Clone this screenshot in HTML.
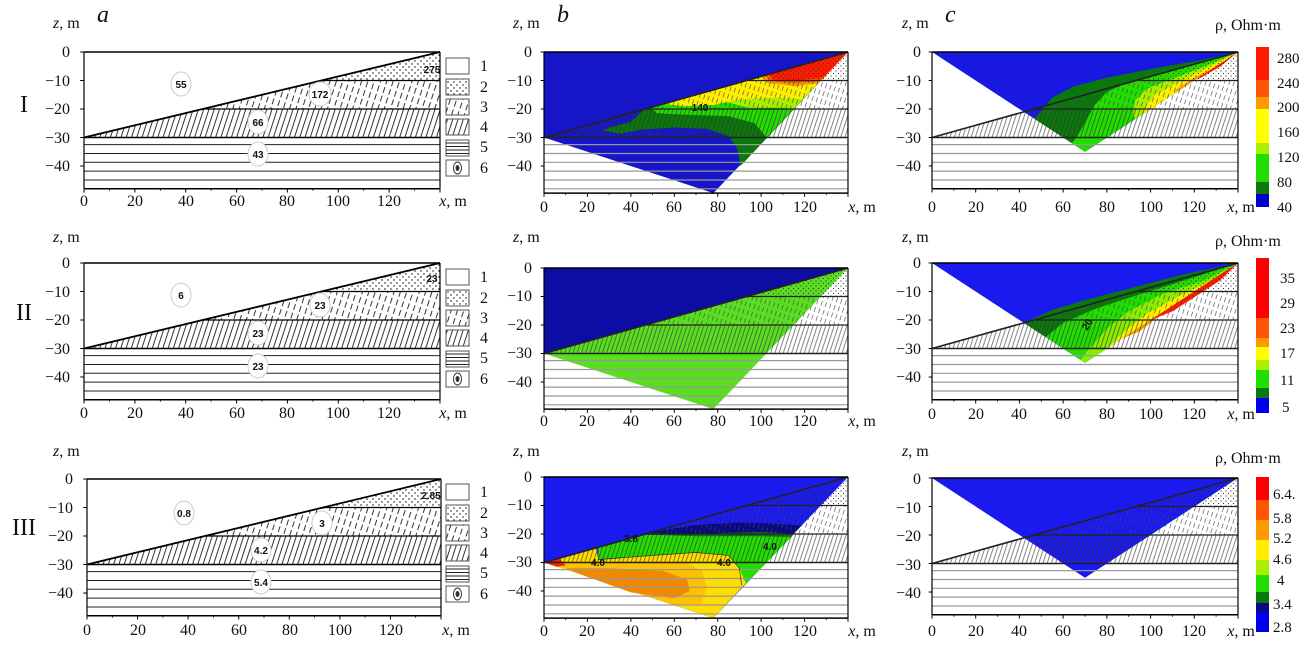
<!DOCTYPE html>
<html><head><meta charset="utf-8">
<style>
html,body{margin:0;padding:0;background:#fff;}
svg{display:block;}
text{font-family:"Liberation Serif",serif;font-size:16px;fill:#111;}
.tm{text-anchor:middle;}
.te{text-anchor:end;}
.it{font-style:italic;}
.big{font-size:24px;}
.lb{font-family:"Liberation Sans",sans-serif;font-size:10px;font-weight:bold;text-anchor:middle;}
.cb{font-size:15px;}
</style></head><body>
<svg id="s" width="1313" height="663" viewBox="0 0 1313 663" xmlns="http://www.w3.org/2000/svg">
<defs>
<pattern id="dotsk" width="6" height="6" patternUnits="userSpaceOnUse"><circle cx="1" cy="1" r="0.7" fill="#000"/><circle cx="4" cy="4" r="0.7" fill="#000"/></pattern>
<pattern id="dashk" width="6" height="9" patternUnits="userSpaceOnUse" patternTransform="rotate(18)"><line x1="3" y1="0" x2="3" y2="6" stroke="#000" stroke-width="0.8"/></pattern>
<pattern id="diagk" width="5" height="10" patternUnits="userSpaceOnUse" patternTransform="rotate(18)"><line x1="2.5" y1="0" x2="2.5" y2="10" stroke="#000" stroke-width="0.8"/></pattern>
<pattern id="dotsg" width="5" height="5" patternUnits="userSpaceOnUse"><circle cx="1" cy="1" r="0.6" fill="#333"/><circle cx="3.5" cy="3.5" r="0.6" fill="#333"/></pattern>
<pattern id="dashg" width="4.5" height="8" patternUnits="userSpaceOnUse" patternTransform="rotate(18)"><line x1="2.2" y1="0" x2="2.2" y2="5" stroke="#444" stroke-width="0.6"/></pattern>
<pattern id="diagg" width="4" height="10" patternUnits="userSpaceOnUse" patternTransform="rotate(18)"><line x1="2" y1="0" x2="2" y2="10" stroke="#333" stroke-width="0.6"/></pattern>
</defs>
<g id="shapes"></g>

<text x="97" y="22" class="it big">a</text>
<text x="557" y="22" class="it big">b</text>
<text x="945" y="22" class="it big">c</text>
<text x="20" y="112" class="big">I</text>
<text x="16" y="320" class="big">II</text>
<text x="12" y="535" class="big">III</text>

<text x="53" y="28"><tspan class="it">z</tspan>, m</text>
<text x="513" y="28"><tspan class="it">z</tspan>, m</text>
<text x="902" y="28"><tspan class="it">z</tspan>, m</text>
<text x="53" y="242"><tspan class="it">z</tspan>, m</text>
<text x="513" y="242"><tspan class="it">z</tspan>, m</text>
<text x="902" y="242"><tspan class="it">z</tspan>, m</text>
<text x="53" y="456"><tspan class="it">z</tspan>, m</text>
<text x="513" y="456"><tspan class="it">z</tspan>, m</text>
<text x="902" y="456"><tspan class="it">z</tspan>, m</text>

<text x="1215" y="30">ρ, Ohm·m</text>
<text x="1215" y="246">ρ, Ohm·m</text>
<text x="1215" y="463">ρ, Ohm·m</text>

<g>
<text x="70" y="57" class="te">0</text><text x="70" y="86" class="te">−10</text><text x="70" y="114" class="te">−20</text><text x="70" y="143" class="te">−30</text><text x="70" y="171" class="te">−40</text>
<text x="84" y="206" class="tm">0</text><text x="135" y="206" class="tm">20</text><text x="186" y="206" class="tm">40</text><text x="237" y="206" class="tm">60</text><text x="287" y="206" class="tm">80</text><text x="338" y="206" class="tm">100</text><text x="389" y="206" class="tm">120</text><text x="453" y="206" class="tm"><tspan class="it">x</tspan>, m</text>
</g>
<g>
<text x="70" y="268" class="te">0</text><text x="70" y="297" class="te">−10</text><text x="70" y="325" class="te">−20</text><text x="70" y="354" class="te">−30</text><text x="70" y="382" class="te">−40</text>
<text x="84" y="418" class="tm">0</text><text x="135" y="418" class="tm">20</text><text x="186" y="418" class="tm">40</text><text x="237" y="418" class="tm">60</text><text x="287" y="418" class="tm">80</text><text x="338" y="418" class="tm">100</text><text x="389" y="418" class="tm">120</text><text x="453" y="418" class="tm"><tspan class="it">x</tspan>, m</text>
</g>
<g>
<text x="73" y="484" class="te">0</text><text x="73" y="513" class="te">−10</text><text x="73" y="541" class="te">−20</text><text x="73" y="570" class="te">−30</text><text x="73" y="598" class="te">−40</text>
<text x="87" y="635" class="tm">0</text><text x="138" y="635" class="tm">20</text><text x="188" y="635" class="tm">40</text><text x="239" y="635" class="tm">60</text><text x="290" y="635" class="tm">80</text><text x="340" y="635" class="tm">100</text><text x="391" y="635" class="tm">120</text><text x="456" y="635" class="tm"><tspan class="it">x</tspan>, m</text>
</g>
<g>
<text x="532" y="57" class="te">0</text><text x="532" y="86" class="te">−10</text><text x="532" y="114" class="te">−20</text><text x="532" y="143" class="te">−30</text><text x="532" y="171" class="te">−40</text>
<text x="544" y="212" class="tm">0</text><text x="587" y="212" class="tm">20</text><text x="631" y="212" class="tm">40</text><text x="674" y="212" class="tm">60</text><text x="718" y="212" class="tm">80</text><text x="761" y="212" class="tm">100</text><text x="805" y="212" class="tm">120</text><text x="862" y="212" class="tm"><tspan class="it">x</tspan>, m</text>
</g>
<g>
<text x="532" y="273" class="te">0</text><text x="532" y="301" class="te">−10</text><text x="532" y="330" class="te">−20</text><text x="532" y="358" class="te">−30</text><text x="532" y="387" class="te">−40</text>
<text x="544" y="426" class="tm">0</text><text x="587" y="426" class="tm">20</text><text x="631" y="426" class="tm">40</text><text x="674" y="426" class="tm">60</text><text x="718" y="426" class="tm">80</text><text x="761" y="426" class="tm">100</text><text x="805" y="426" class="tm">120</text><text x="862" y="426" class="tm"><tspan class="it">x</tspan>, m</text>
</g>
<g>
<text x="532" y="482" class="te">0</text><text x="532" y="510" class="te">−10</text><text x="532" y="539" class="te">−20</text><text x="532" y="567" class="te">−30</text><text x="532" y="596" class="te">−40</text>
<text x="544" y="636" class="tm">0</text><text x="587" y="636" class="tm">20</text><text x="631" y="636" class="tm">40</text><text x="674" y="636" class="tm">60</text><text x="718" y="636" class="tm">80</text><text x="761" y="636" class="tm">100</text><text x="805" y="636" class="tm">120</text><text x="862" y="636" class="tm"><tspan class="it">x</tspan>, m</text>
</g>
<g>
<text x="921" y="57" class="te">0</text><text x="921" y="86" class="te">−10</text><text x="921" y="114" class="te">−20</text><text x="921" y="143" class="te">−30</text><text x="921" y="171" class="te">−40</text>
<text x="932" y="212" class="tm">0</text><text x="976" y="212" class="tm">20</text><text x="1019" y="212" class="tm">40</text><text x="1063" y="212" class="tm">60</text><text x="1107" y="212" class="tm">80</text><text x="1151" y="212" class="tm">100</text><text x="1194" y="212" class="tm">120</text><text x="1241" y="212" class="tm"><tspan class="it">x</tspan>, m</text>
</g>
<g>
<text x="921" y="268" class="te">0</text><text x="921" y="297" class="te">−10</text><text x="921" y="325" class="te">−20</text><text x="921" y="354" class="te">−30</text><text x="921" y="382" class="te">−40</text>
<text x="932" y="419" class="tm">0</text><text x="976" y="419" class="tm">20</text><text x="1019" y="419" class="tm">40</text><text x="1063" y="419" class="tm">60</text><text x="1107" y="419" class="tm">80</text><text x="1151" y="419" class="tm">100</text><text x="1194" y="419" class="tm">120</text><text x="1241" y="419" class="tm"><tspan class="it">x</tspan>, m</text>
</g>
<g>
<text x="921" y="484" class="te">0</text><text x="921" y="513" class="te">−10</text><text x="921" y="541" class="te">−20</text><text x="921" y="570" class="te">−30</text><text x="921" y="598" class="te">−40</text>
<text x="932" y="636" class="tm">0</text><text x="976" y="636" class="tm">20</text><text x="1019" y="636" class="tm">40</text><text x="1063" y="636" class="tm">60</text><text x="1107" y="636" class="tm">80</text><text x="1151" y="636" class="tm">100</text><text x="1194" y="636" class="tm">120</text><text x="1241" y="636" class="tm"><tspan class="it">x</tspan>, m</text>
</g>

<g>
<text x="480" y="71">1</text><text x="480" y="92">2</text><text x="480" y="112">3</text><text x="480" y="132">4</text><text x="480" y="152">5</text><text x="480" y="173">6</text>
<text x="480" y="282">1</text><text x="480" y="303">2</text><text x="480" y="323">3</text><text x="480" y="343">4</text><text x="480" y="363">5</text><text x="480" y="384">6</text>
<text x="480" y="497">1</text><text x="480" y="518">2</text><text x="480" y="538">3</text><text x="480" y="558">4</text><text x="480" y="578">5</text><text x="480" y="599">6</text>
</g>

<g>
<text x="1277" y="63" class="cb">280</text><text x="1277" y="88" class="cb">240</text><text x="1277" y="112" class="cb">200</text><text x="1277" y="137" class="cb">160</text><text x="1277" y="162" class="cb">120</text><text x="1277" y="187" class="cb">80</text><text x="1277" y="212" class="cb">40</text>
<text x="1280" y="283" class="cb">35</text><text x="1280" y="308" class="cb">29</text><text x="1280" y="333" class="cb">23</text><text x="1280" y="358" class="cb">17</text><text x="1280" y="385" class="cb">11</text><text x="1282" y="412" class="cb">5</text>
<text x="1273" y="499" class="cb">6.4.</text><text x="1273" y="523" class="cb">5.8</text><text x="1273" y="543" class="cb">5.2</text><text x="1273" y="564" class="cb">4.6</text><text x="1277" y="585" class="cb">4</text><text x="1273" y="609" class="cb">3.4</text><text x="1273" y="632" class="cb">2.8</text>
</g>

<g>
<ellipse cx="181" cy="84" rx="10" ry="12" fill="#fff" stroke="#ccc"/><text x="181" y="88" class="lb">55</text>
<ellipse cx="320" cy="94" rx="11" ry="12" fill="#fff" stroke="#ccc"/><text x="320" y="98" class="lb">172</text>
<text x="432" y="73" class="lb">275</text>
<ellipse cx="258" cy="122" rx="10" ry="12" fill="#fff" stroke="#ccc"/><text x="258" y="126" class="lb">66</text>
<ellipse cx="258" cy="154" rx="10" ry="12" fill="#fff" stroke="#ccc"/><text x="258" y="158" class="lb">43</text>

<ellipse cx="181" cy="295" rx="10" ry="12" fill="#fff" stroke="#ccc"/><text x="181" y="299" class="lb">6</text>
<ellipse cx="320" cy="305" rx="10" ry="12" fill="#fff" stroke="#ccc"/><text x="320" y="309" class="lb">23</text>
<text x="432" y="282" class="lb">23</text>
<ellipse cx="258" cy="333" rx="10" ry="12" fill="#fff" stroke="#ccc"/><text x="258" y="337" class="lb">23</text>
<ellipse cx="258" cy="366" rx="10" ry="12" fill="#fff" stroke="#ccc"/><text x="258" y="370" class="lb">23</text>

<ellipse cx="184" cy="513" rx="10" ry="12" fill="#fff" stroke="#ccc"/><text x="184" y="517" class="lb">0.8</text>
<ellipse cx="322" cy="523" rx="10" ry="12" fill="#fff" stroke="#ccc"/><text x="322" y="527" class="lb">3</text>
<text x="431" y="499" class="lb">2.85</text>
<ellipse cx="261" cy="550" rx="10" ry="12" fill="#fff" stroke="#ccc"/><text x="261" y="554" class="lb">4.2</text>
<ellipse cx="261" cy="582" rx="10" ry="12" fill="#fff" stroke="#ccc"/><text x="261" y="586" class="lb">5.4</text>

<text x="700" y="111" class="lb">140</text>
<text x="1090" y="326" class="lb" transform="rotate(-60 1090 326)">20</text>
<text x="631" y="542" class="lb">3.8</text>
<text x="770" y="550" class="lb">4.0</text>
<text x="598" y="566" class="lb">4.0</text>
<text x="724" y="566" class="lb">4.0</text>
</g>
</svg>
<script>
const S=2.85;
let out='';
function M(p,x,z){return [(p.X+x*p.W/140).toFixed(1),(p.Y-z*S).toFixed(1)];}
function poly(p,pts,fill,extra){out+='<polygon points="'+pts.map(q=>M(p,q[0],q[1]).join(',')).join(' ')+'" fill="'+fill+'" '+(extra||'')+'/>';}
function ln(p,x1,z1,x2,z2,c,w){const a=M(p,x1,z1),b=M(p,x2,z2);out+='<line x1="'+a[0]+'" y1="'+a[1]+'" x2="'+b[0]+'" y2="'+b[1]+'" stroke="'+c+'" stroke-width="'+w+'"/>';}
function geo(p,k){
  const s=k?'k':'g';
  poly(p,[[93.3,-10],[140,0],[140,-10]],'url(#dots'+s+')');
  poly(p,[[46.7,-20],[93.3,-10],[140,-10],[140,-20]],'url(#dash'+s+')');
  poly(p,[[0,-30],[46.7,-20],[140,-20],[140,-30]],'url(#diag'+s+')');
  const hc=k?'#222':'#999';
  for(let z=-32.5;z>p.B+0.5;z-=3.1) ln(p,0,z,140,z,hc,k?1:1.2);
  const lc=k?'#000':'#222';
  ln(p,0,-30,140,0,lc,k?1.8:1.6);
  ln(p,93.3,-10,140,-10,lc,1.2);ln(p,46.7,-20,140,-20,lc,1.2);ln(p,0,-30,140,-30,lc,1.4);
  ln(p,0,0,140,0,'#000',1.5);ln(p,0,0,0,p.B,'#000',1.2);ln(p,0,p.B,140,p.B,'#000',1.5);ln(p,140,0,140,p.B,'#000',1.2);
  for(let x=0;x<=140;x+=20){ln(p,x,p.B,x,p.B-1.3,'#000',1);}
  for(let x=10;x<=130;x+=20){ln(p,x,p.B,x,p.B-0.7,'#000',0.8);}
  for(let z=0;z>=-40;z-=10){ln(p,0,z,-1.5,z,'#000',1);}
}
const A=[{X:84,W:356,Y:52,B:-48},{X:84,W:356,Y:263,B:-48},{X:87,W:354,Y:479,B:-48}];
const B=[{X:544,W:304,Y:52,B:-49.5},{X:544,W:304,Y:268,B:-49.5},{X:544,W:304,Y:477,B:-49.5}];
const C=[{X:932,W:306,Y:52,B:-48},{X:932,W:306,Y:263,B:-48},{X:932,W:306,Y:478,B:-48}];
A.forEach(p=>geo(p,true));
[0,211,426].forEach(dy=>{
  const ys=[58,79,99,119,140,160], f=['#fff','url(#dotsk)','url(#dashk)','url(#diagk)','#fff','#fff'];
  ys.forEach((y,i)=>{out+='<rect x="446" y="'+(y+dy)+'" width="23" height="16" fill="'+f[i]+'" stroke="#555" stroke-width="1"/>';
    if(i==4){for(let j=3;j<16;j+=3.5) out+='<line x1="446" x2="469" y1="'+(y+dy+j)+'" y2="'+(y+dy+j)+'" stroke="#222"/>';}
    if(i==5){out+='<ellipse cx="457.5" cy="'+(y+dy+8)+'" rx="4" ry="6" fill="#fff" stroke="#333"/><ellipse cx="457.5" cy="'+(y+dy+8)+'" rx="2" ry="3" fill="#333"/>';}
  });
});
const R='#ff1a00',OR='#ff5500',O='#ff9900',Y='#ffee00',YG='#aaee00',G='#22dd00',DG='#0a780a',NV='#0a0a80';
(function(p){
  poly(p,[[0,0],[140,0],[78,-49.5],[0,-30]],'#1616c8');
  poly(p,[[46,-20.3],[40,-24.5],[30,-26.5],[27,-27.5],[35,-28.7],[45,-27.2],[60,-26.5],[75,-27],[85,-29.5],[89,-34],[90.5,-40],[140,0]],DG);
  poly(p,[[49,-19.5],[52,-21.5],[65,-22],[85,-22.5],[97,-25],[102.5,-30],[140,0]],G);
  poly(p,[[70,-15],[80,-17],[95,-19.5],[110,-19.5],[115,-20],[140,0]],YG);
  poly(p,[[55,-18.2],[65,-19],[78,-18.6],[90,-16.5],[105,-16],[119,-16.5],[140,0]],Y);
  poly(p,[[100,-8.6],[103,-11],[116,-12],[126.5,-11],[140,0]],O);
  poly(p,[[102,-8.1],[104,-10.3],[116,-11],[127.3,-10.2],[140,0]],OR);
  poly(p,[[104,-7.7],[105,-9.5],[115,-10],[128.5,-9],[140,0]],R);
})(B[0]);
(function(p){
  poly(p,[[0,0],[140,0],[70,-35]],'#1818e0');
  poly(p,[[140,0],[122,-3],[100,-6],[80,-9],[65,-12],[55,-16],[47,-23.5],[70,-35]],DG);
  poly(p,[[140,0],[124,-3.5],[105,-7.5],[90,-10.5],[80,-14],[74,-19],[70,-25],[66,-30],[64,-32],[70,-35]],G);
  poly(p,[[140,0],[125,-5],[108,-10],[98,-13],[93,-17],[92,-22],[93,-23.5]],YG);
  poly(p,[[140,0],[126,-5.5],[112,-11],[102,-15],[98,-19],[97,-21.5]],Y);
  poly(p,[[140,0],[130,-5],[120,-9],[112,-13],[111,-14.5]],O);
  poly(p,[[140,0],[132,-5],[123,-9],[121,-9.5]],R);
})(C[0]);
(function(p){
  poly(p,[[0,0],[140,0],[0,-30]],'#0d0da6');
  poly(p,[[0,-30],[140,0],[78,-49.5]],'#5ade22');
})(B[1]);
(function(p){
  poly(p,[[0,0],[140,0],[70,-35]],'#1a1aee');
  poly(p,[[140,0],[115,-4],[90,-9],[70,-13],[55,-16.5],[42,-21],[70,-35]],DG);
  poly(p,[[140,0],[120,-5],[95,-11],[75,-16],[60,-21],[52,-26],[70,-35]],G);
  poly(p,[[140,0],[125,-6],[105,-11],[90,-17],[80,-23],[72,-30],[68,-34],[70,-35]],'#88ee00');
  poly(p,[[140,0],[128,-6],[112,-12],[98,-18],[88,-24],[80,-30],[75,-32.5]],Y);
  poly(p,[[140,0],[130,-6],[118,-12],[105,-18],[95,-24],[87,-26.5]],O);
  poly(p,[[140,0],[132,-6],[122,-11],[110,-17],[100,-20],[98,-21]],R);
})(C[1]);
(function(p){
  poly(p,[[0,0],[140,0],[78,-49.5],[0,-30]],'#1a1aee');
  poly(p,[[50,-19.3],[70,-16.8],[90,-16],[105,-16.3],[118.5,-17],[115,-20],[100,-19.3],[70,-20],[50,-19.7]],NV);
  poly(p,[[50,-19.7],[70,-20],[100,-19.3],[115,-20],[113.5,-21.5],[100,-21],[70,-21],[52,-20.5]],DG);
  poly(p,[[25,-24.6],[47,-20.2],[70,-20.8],[100,-20.8],[114,-21],[92.4,-38],[90,-32],[85,-27.5],[70,-26.5],[50,-27.5],[30,-28.5],[25,-29]],G);
  poly(p,[[0,-30],[24,-24.9],[25,-29],[50,-27.5],[70,-26.5],[85,-27.5],[90,-32],[93,-37.3],[78,-49.5]],'#ffdd00');
  poly(p,[[5,-30.5],[20,-29.8],[45,-29.5],[65,-30],[73,-33],[75,-39],[72,-45],[60,-45],[20,-35]],'#ffc000');
  poly(p,[[10,-32],[30,-32],[55,-33],[66,-36],[67,-40],[60,-42.5],[40,-40.5],[20,-35]],'#f08800');
  poly(p,[[0,-30],[7,-28.5],[10,-31],[6,-31.5]],'#ff2200');
})(B[2]);
(function(p){poly(p,[[0,0],[140,0],[70,-35]],'#1a1aee');})(C[2]);
B.forEach(p=>geo(p,false));C.forEach(p=>geo(p,false));
(function(p){out+='<polyline fill="none" stroke="#333" stroke-width="0.7" points="'+[[25,-29],[50,-27.5],[70,-26.5],[85,-27.5],[90,-32],[91,-38]].map(q=>M(p,q[0],q[1]).join(',')).join(' ')+'"/>';})(B[2]);
function cbar(y0,segs){let y=y0;segs.forEach(s=>{out+='<rect x="1256" y="'+y+'" width="13" height="'+s[1]+'" fill="'+s[0]+'"/>';y+=s[1];});}
cbar(47,[[R,33],[OR,17],[O,12],['#ffff00',34],[YG,11],[G,28],[DG,12],['#0000cc',13]]);
cbar(258,[['#ff0000',60],[OR,20],[O,9],['#ffff00',13],[YG,10],[G,18],[DG,10],['#0000ee',15]]);
cbar(477,[['#ff0000',23],[OR,20],[O,20],['#ffee00',20],[YG,15],[G,17],[DG,11],[NV,9],['#0000ee',20]]);
document.getElementById('shapes').innerHTML=out;
</script>
</body></html>
